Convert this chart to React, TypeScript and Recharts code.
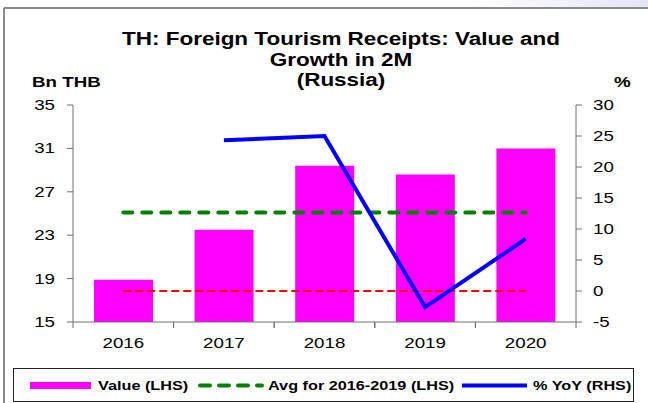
import { Bar, ComposedChart, Line, XAxis, YAxis } from "recharts"

const years = ["2016", "2017", "2018", "2019", "2020"]
const valueBn = [18.9, 23.5, 29.4, 28.6, 31.0]
const avg2016to2019 = [25.1, 25.1, 25.1, 25.1, 25.1]
const yoyPct: (number | null)[] = [null, 24.3, 25.0, -2.6, 8.4]
const zeroRef = [0, 0, 0, 0, 0]

const leftTicks = [15, 19, 23, 27, 31, 35]
const rightTicks = [-5, 0, 5, 10, 15, 20, 25, 30]

const titleLines = ["TH: Foreign Tourism Receipts: Value and", "Growth in 2M", "(Russia)"]
const leftUnit = "Bn THB"
const rightUnit = "%"

const legendItems = [
  { name: "Value (LHS)", color: "#FF00FF", kind: "bar" },
  { name: "Avg for 2016-2019 (LHS)", color: "#008000", kind: "dash" },
  { name: "% YoY (RHS)", color: "#0000FF", kind: "line" },
]

const FONT = "'Liberation Sans', Arial, sans-serif"
const STRETCH = 1.25
const AXIS = "#707070"

const data = years.map((year, i) => ({
  year,
  value: valueBn[i],
  avg: avg2016to2019[i],
  yoy: yoyPct[i],
  zero: zeroRef[i],
}))

function Stretched({ x, y, anchor = "start", size, bold, children }: any) {
  return (
    <text
      transform={`translate(${x},${y}) scale(${STRETCH},1)`}
      textAnchor={anchor}
      fontFamily={FONT}
      fontSize={size}
      fontWeight={bold ? "bold" : "normal"}
      fill="#000"
    >
      {children}
    </text>
  )
}

function XTick(props: any) {
  const { x, y, payload } = props
  const half = payload?.offset ?? 0
  return (
    <g>
      <line x1={x - half} x2={x - half} y1={y} y2={y + 6} stroke={AXIS} />
      <line x1={x + half} x2={x + half} y1={y} y2={y + 6} stroke={AXIS} />
      <Stretched x={x} y={y + 26} anchor="middle" size={15}>
        {payload.value}
      </Stretched>
    </g>
  )
}

function YTick(props: any) {
  const { x, y, payload, textAnchor } = props
  return (
    <Stretched x={x} y={y + 5} anchor={textAnchor} size={15}>
      {payload.value}
    </Stretched>
  )
}

function Overlay() {
  return (
    <svg width={648} height={403} style={{ position: "absolute", left: 0, top: 0, pointerEvents: "none" }}>
      <defs>
        <linearGradient id="corner" x1="0" x2="1" y1="0" y2="0">
          <stop offset="0" stopColor="#ffffff" />
          <stop offset="1" stopColor="#e4e4f4" />
        </linearGradient>
      </defs>
      <rect x={470} y={0} width={178} height={7} fill="url(#corner)" />
      <line x1={4} x2={4} y1={8} y2={403} stroke="#8a8a8a" strokeWidth={2} />
      <line x1={4} x2={648} y1={8} y2={8} stroke="#8a8a8a" strokeWidth={2} />

      {titleLines.map((t, i) => (
        <Stretched key={t} x={341} y={45 + i * 20.5} anchor="middle" size={18} bold>
          {t}
        </Stretched>
      ))}
      <Stretched x={32} y={87} size={15} bold>
        {leftUnit}
      </Stretched>
      <Stretched x={614} y={87} size={15} bold>
        {rightUnit}
      </Stretched>

      <rect x={13.5} y={368.5} width={620} height={33} fill="#fff" stroke="#222" />
      {/* legend */}
      <rect x={30} y={382} width={61} height={7} fill={legendItems[0].color} />
      <Stretched x={98} y={390} size={13} bold>
        {legendItems[0].name}
      </Stretched>
      <line
        x1={200}
        x2={262}
        y1={385.5}
        y2={385.5}
        stroke={legendItems[1].color}
        strokeWidth={4}
        strokeDasharray="10 9"
        strokeLinecap="round"
      />
      <Stretched x={268} y={390} size={13} bold>
        {legendItems[1].name}
      </Stretched>
      <line x1={462} x2={527} y1={385.5} y2={385.5} stroke={legendItems[2].color} strokeWidth={4} />
      <Stretched x={533} y={390} size={13} bold>
        {legendItems[2].name}
      </Stretched>
    </svg>
  )
}

export default function App() {
  return (
    <div style={{ position: "fixed", left: 0, top: 0, width: 648, height: 403, background: "#fff" }}>
      <ComposedChart width={648} height={403} data={data} margin={{ top: 105, right: 0, bottom: 51, left: 0 }}>
        <XAxis
          dataKey="year"
          height={30}
          tickSize={0}
          tickMargin={0}
          tickLine={false}
          axisLine={{ stroke: AXIS }}
          tick={<XTick />}
          interval={0}
        />
        <YAxis
          yAxisId="left"
          width={73}
          domain={[15, 35]}
          ticks={leftTicks}
          tickSize={6}
          tickMargin={12}
          axisLine={{ stroke: AXIS }}
          tickLine={{ stroke: AXIS }}
          tick={<YTick />}
          interval={0}
        />
        <YAxis
          yAxisId="right"
          orientation="right"
          width={72}
          domain={[-5, 30]}
          ticks={rightTicks}
          tickSize={6}
          tickMargin={11}
          axisLine={{ stroke: AXIS }}
          tickLine={{ stroke: AXIS }}
          tick={<YTick />}
          interval={0}
        />
        <Bar yAxisId="left" dataKey="value" fill="#FF00FF" barSize={59} isAnimationActive={false} />
        <Line
          yAxisId="right"
          dataKey="zero"
          stroke="#FF0000"
          strokeWidth={2}
          strokeDasharray="8 4"
          dot={false}
          activeDot={false}
          isAnimationActive={false}
        />
        <Line
          yAxisId="left"
          dataKey="avg"
          stroke="#008000"
          strokeWidth={4}
          strokeDasharray="9 10"
          strokeLinecap="round"
          dot={false}
          activeDot={false}
          isAnimationActive={false}
        />
        <Line
          yAxisId="right"
          dataKey="yoy"
          stroke="#0000FF"
          strokeWidth={4}
          dot={false}
          activeDot={false}
          isAnimationActive={false}
        />
      </ComposedChart>
      <Overlay />
    </div>
  )
}
